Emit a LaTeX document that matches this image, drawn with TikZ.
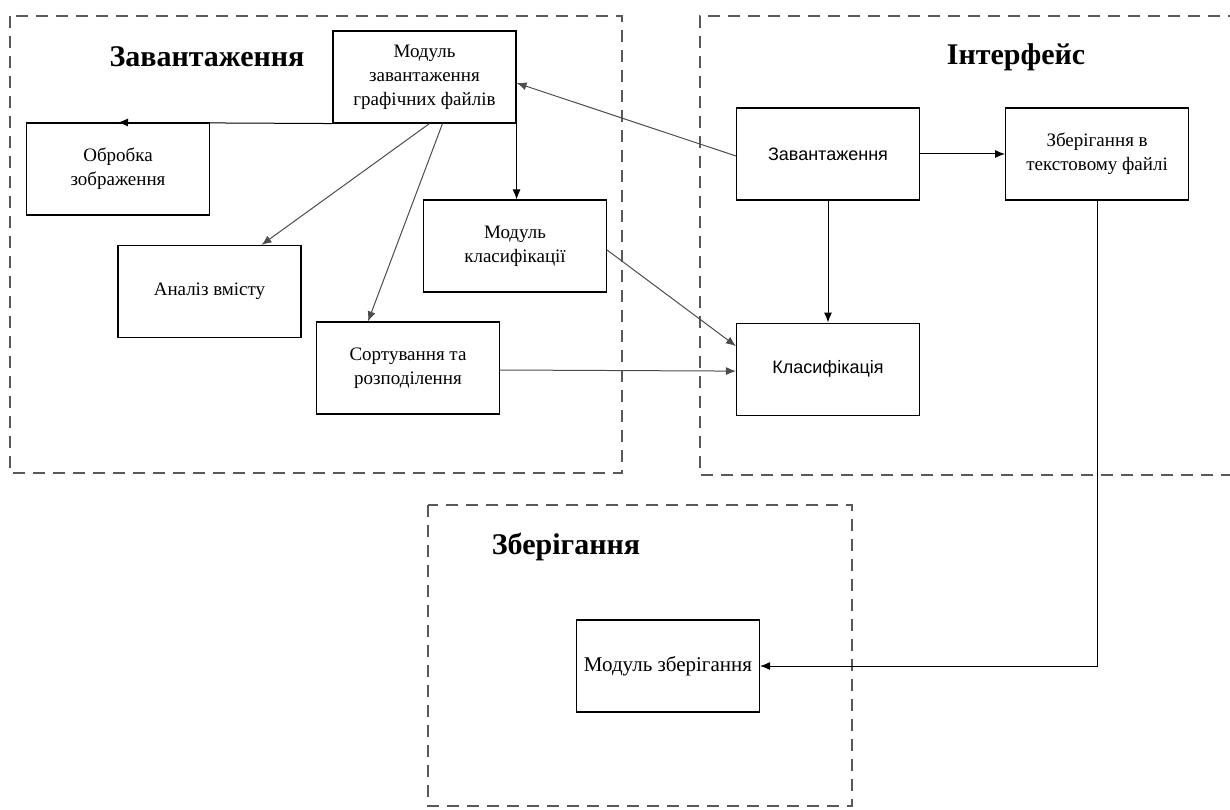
\documentclass[tikz,border=0pt]{standalone}
\usepackage{fontspec}
\setmainfont{Liberation Serif}
\setsansfont{Liberation Sans}
\usetikzlibrary{positioning,arrows.meta}

\tikzset{
  box/.style={draw, line width=1.1pt, minimum width=183pt, minimum height=92pt,
    inner sep=2pt, align=center, font=\fontsize{19}{24}\selectfont},
  sbox/.style={box, font=\sffamily\fontsize{18}{22}\selectfont},
  group/.style={draw=black!65, line width=1.2pt, dash pattern=on 12pt off 8pt},
  title/.style={font=\bfseries\fontsize{30}{34}\selectfont},
  link/.style={-{Latex[length=10pt,width=8pt]}, line width=1pt},
  glink/.style={link, draw=black!70}
}

\begin{document}
\begin{tikzpicture}[x=1pt,y=-1pt]
        \useasboundingbox (0,0) rectangle (1230,810);
        % groups
        \draw[group] (10,16) rectangle (622,473);
        \draw[group] (1240,16) -- (700,16) -- (700,475) -- (1240,475);
        \draw[group] (428,505) rectangle (852,806);
        \node[title] at (207,57) (tload) {Завантаження};
        \node[title] at (1016,57) (tiface) {Інтерфейс};
        \node[title] at (566,547) (tstore) {Зберігання};
        % loading
        \node[box] at (424.5,77) (gen) {Модуль\\завантаження\\графічних файлів};
        \node[box] at (118,169) (proc) {Обробка\\зображення};
        \node[box] at (209.5,291.5) (anal) {Аналіз вмісту};
        \node[box] at (515,246) (modcl) {Модуль\\класифікації};
        \node[box] at (408,368) (sort) {Сортування та\\розподілення};
        % interface
        \node[sbox] at (828,154) (load) {Завантаження};
        \node[box, right=85pt of load] (savetxt) {Зберігання в\\текстовому файлі};
        \node[sbox, below=122pt of load] (classif) {Класифікація};
        % storage
        \node[box, font=\fontsize{21}{24}\selectfont] at (668,666) (store) {Модуль зберігання};
        \draw[link] (gen.south west) -- (proc.north);
        \draw[glink] ([xshift=5pt]gen.south) -- ([xshift=52pt]anal.north);
        \draw[glink] ([xshift=18pt]gen.south) -- ([xshift=-40pt]sort.north);
        \draw[link] (gen.south east) -- (gen.south east |- modcl.north);
        \draw[glink] ([yshift=-2pt]load.west) -- ([yshift=-6pt]gen.east);
        \draw[link] (load) -- (savetxt);
        \draw[link] (load) -- (classif);
        \draw[glink] ([yshift=-4pt]modcl.east) -- ([yshift=23pt]classif.west);
        \draw[glink] ([yshift=-2pt]sort.east) -- ([yshift=-2pt]classif.west);
        \draw[link] (savetxt.south) |- (store.east);
    \end{tikzpicture}
\end{document}
